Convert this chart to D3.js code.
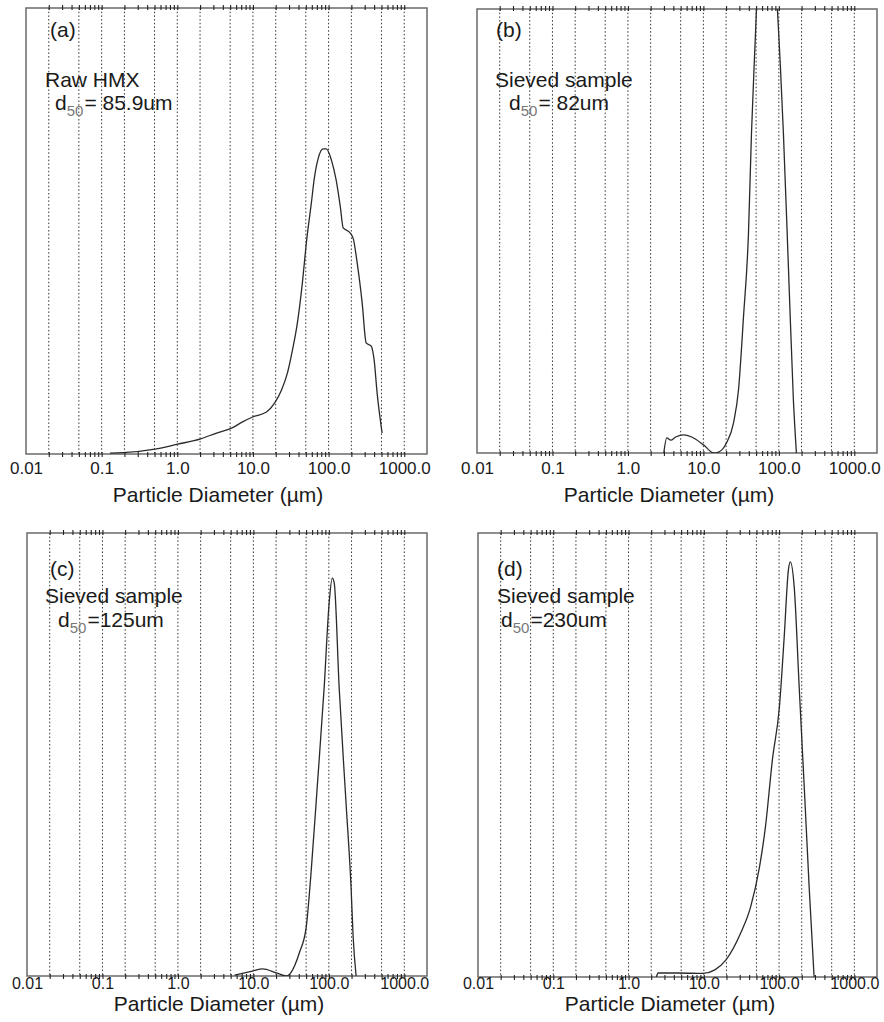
<!DOCTYPE html>
<html>
<head>
<meta charset="utf-8">
<script src="https://cdn.jsdelivr.net/npm/d3@7"></script>
<style>
  html, body { margin: 0; padding: 0; background: #fff; }
  svg text { font-family: "Liberation Sans", Arial, Helvetica, sans-serif; fill: #1a1a1a; }
</style>
</head>
<body>
<svg id="chart" width="884" height="1022"></svg>
<script>
// ---------------- data ----------------
const xTickValues = [0.01, 0.1, 1, 10, 100, 1000];
const xTickLabels = ["0.01", "0.1", "1.0", "10.0", "100.0", "1000.0"];
const gridValues = [0.02, 0.05, 0.1, 0.2, 0.5, 1, 2, 5, 10, 20, 50, 100, 200, 500, 1000];
const axisTitle = "Particle Diameter (\u00b5m)";

// panel (a) Raw HMX
const sizeA = [0.129, 0.191, 0.506, 1.01, 2.04, 3.31, 5.22, 7.30, 9.88, 15.1, 19.3, 23.8, 28.6, 33.3, 38.7, 45.0, 50.8, 59.2, 64.9, 73.2, 85.1, 93.3, 109, 126, 143, 156, 187, 211, 239, 278, 314, 366, 400, 438, 510];
const volA  = [0.2, 0.3, 1.1, 2.2, 3.4, 4.7, 5.8, 7.2, 8.3, 9.4, 11.4, 14.3, 18.2, 23.3, 29.4, 38.3, 47.3, 56.3, 61.9, 66.4, 68.4, 68.4, 65.9, 61.4, 55.4, 50.7, 49.8, 48.4, 42.8, 33.9, 24.9, 24.2, 21.1, 13.7, 4.7];

// panel (b) Sieved sample d50 = 82um (peak runs off the top)
const sizeB = [2.99, 3.27, 3.70, 4.30, 5.49, 7.00, 10.1, 13.7, 15.9, 20.3, 25.1, 29.2, 34.0, 39.6, 43.4, 49.1, 55, 63, 72, 82, 95.7, 105, 115, 134, 156, 171];
const volB  = [0, 3.4, 2.9, 3.6, 4.1, 3.6, 1.8, 0, 0.2, 2.3, 6.8, 14.2, 30.6, 49.5, 72, 94.6, 115, 128, 130, 122, 100, 86.9, 72, 41.9, 11.9, 0];

// panel (c) Sieved sample d50 = 125um
const sizeC = [5.63, 9.73, 13.2, 20.2, 27.3, 31.8, 40.6, 50.2, 58.5, 70.2, 86.8, 101, 111, 118, 137, 169, 197, 210, 230];
const volC  = [0.2, 1.1, 1.6, 0.7, 0, 0.9, 5.2, 11.1, 23.9, 42.7, 65.2, 84.2, 89.8, 88.7, 65.2, 39.1, 20.1, 8.8, 0];

// panel (d) Sieved sample d50 = 230um
const sizeD = [2.34, 2.48, 4.85, 9.75, 14.0, 19.6, 30.9, 41.9, 55.0, 65.9, 81.5, 101, 117, 133, 141, 159, 185, 216, 251, 292];
const volD  = [0, 0.9, 0.9, 0.8, 1.6, 3.8, 9.9, 15.8, 24.8, 33.8, 48.9, 60.8, 76.6, 91.7, 93.5, 87.8, 65.3, 42.8, 20.3, 0];

const panelLetters = ["(a)", "(b)", "(c)", "(d)"];
const panelNames = ["Raw HMX", "Sieved sample", "Sieved sample", "Sieved sample"];
const d50Texts = ["= 85.9um", "= 82um", "=125um", "=230um"];

// ---------------- layout ----------------
const panels = [
  { sizes: sizeA, vols: volA, left: 26,  top: 8,   w: 401, h: 446, lblDy: 20, lblFs: 17, titleDy: 48,
    letter: [50, 37], name: [45, 87], d50: [55, 110] },
  { sizes: sizeB, vols: volB, left: 477, top: 9,   w: 400, h: 444, lblDy: 21, lblFs: 17, titleDy: 49,
    letter: [496, 37], name: [495, 87], d50: [509, 110] },
  { sizes: sizeC, vols: volC, left: 27,  top: 533, w: 400, h: 443, lblDy: 13, lblFs: 16, titleDy: 35,
    letter: [50, 576], name: [45, 603], d50: [58, 627] },
  { sizes: sizeD, vols: volD, left: 478, top: 533, w: 399, h: 444, lblDy: 12, lblFs: 16, titleDy: 34,
    letter: [497, 576], name: [497, 603], d50: [501, 627] }
];

const svg = d3.select("#chart");
svg.append("rect").attr("width", 884).attr("height", 1022).attr("fill", "#fff");

panels.forEach((p, i) => {
  const x = d3.scaleLog().domain([0.01, 2000]).range([p.left, p.left + p.w]);
  const y = d3.scaleLinear().domain([0, 100]).range([p.top + p.h, p.top]);
  const g = svg.append("g");

  const clipId = "clip" + i;
  svg.append("defs").append("clipPath").attr("id", clipId)
    .append("rect").attr("x", p.left).attr("y", p.top).attr("width", p.w).attr("height", p.h);

  // dotted grid
  g.append("g").selectAll("line").data(gridValues).join("line")
    .attr("x1", d => x(d)).attr("x2", d => x(d))
    .attr("y1", p.top).attr("y2", p.top + p.h)
    .attr("stroke", "#333").attr("stroke-width", 1)
    .attr("stroke-dasharray", "1.5,2.2");

  // frame
  g.append("rect").attr("x", p.left).attr("y", p.top).attr("width", p.w).attr("height", p.h)
    .attr("fill", "none").attr("stroke", "#6a6a6a").attr("stroke-width", 1.5);

  // minor/major ticks at top and bottom (crossing frame)
  const tickVals = x.ticks().filter(v => v > 0.0101 && v <= 1000.1);
  const topAxis = d3.axisTop(x).tickValues(tickVals).tickSize(5).tickFormat("");
  const botAxis = d3.axisBottom(x).tickValues(tickVals).tickSize(5).tickFormat("");
  [[topAxis, p.top + 2], [botAxis, p.top + p.h - 2]].forEach(([ax, ty]) => {
    const a = g.append("g").attr("transform", `translate(0,${ty})`).call(ax);
    a.select(".domain").remove();
    a.selectAll(".tick line").attr("stroke", "#222").attr("stroke-width", 1.1);
  });

  // tick labels
  const lab = d3.axisBottom(x).tickValues(xTickValues).tickSize(0)
    .tickFormat((d, k) => xTickLabels[k]);
  const la = g.append("g").attr("transform", `translate(0,${p.top + p.h + p.lblDy - 13})`).call(lab);
  la.select(".domain").remove();
  la.selectAll(".tick text").attr("font-size", p.lblFs).attr("dy", 0).attr("y", 13)
    .attr("fill", "#1a1a1a");

  // axis title
  g.append("text").attr("x", p.left + 192).attr("y", p.top + p.h + p.titleDy)
    .attr("text-anchor", "middle").attr("font-size", 21).text(axisTitle);

  // curve
  const pts = p.sizes.map((s, k) => [s, p.vols[k]]);
  const line = d3.line().x(d => x(d[0])).y(d => y(d[1])).curve(d3.curveMonotoneX);
  g.append("path").datum(pts).attr("d", line)
    .attr("clip-path", `url(#${clipId})`)
    .attr("fill", "none").attr("stroke", "#2a2a2a").attr("stroke-width", 1.3);

  // annotations
  g.append("text").attr("x", p.letter[0]).attr("y", p.letter[1]).attr("font-size", 21).text(panelLetters[i]);
  g.append("text").attr("x", p.name[0]).attr("y", p.name[1]).attr("font-size", 21).text(panelNames[i]);
  const t = g.append("text").attr("x", p.d50[0]).attr("y", p.d50[1]).attr("font-size", 21);
  t.append("tspan").text("d");
  t.append("tspan").attr("font-size", 15).attr("dy", 6).attr("fill", "#777").text("50");
  t.append("tspan").attr("dy", -6).attr("dx", 1).text(d50Texts[i]);
});
</script>
</body>
</html>
